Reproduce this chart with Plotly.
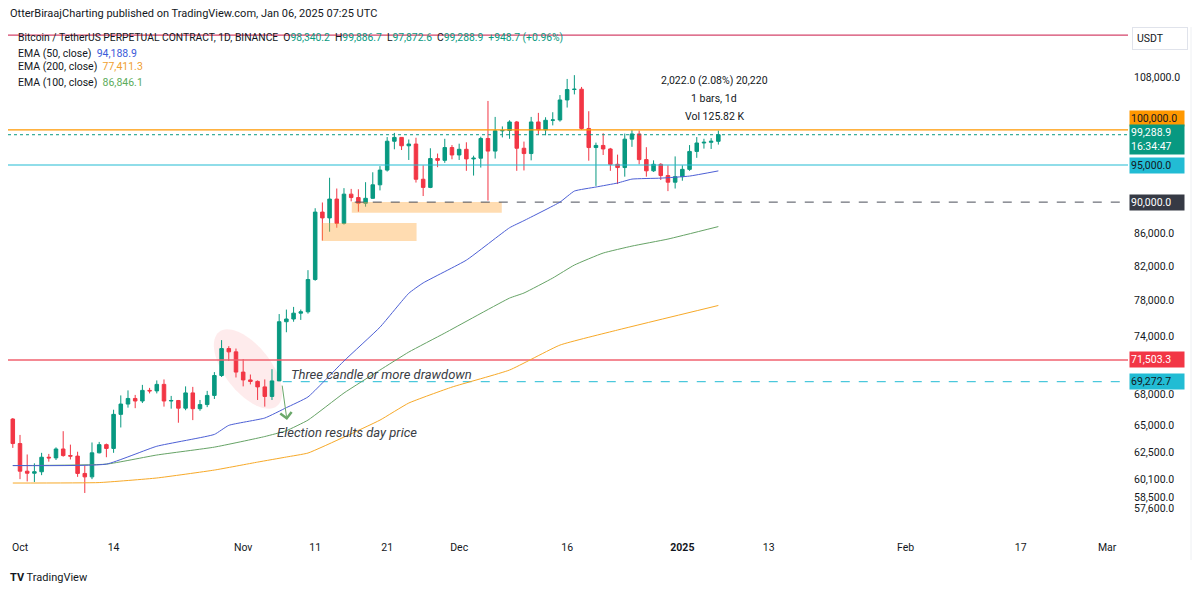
import numpy as np
import pandas as pd
import plotly.graph_objects as go

# ---------------- data ----------------
dates = pd.date_range("2024-09-30", "2025-01-06", freq="D")

opens = [65600, 63300, 60800, 60620, 60750, 62050, 61990, 62800, 62200, 62150, 60600, 60300, 62450, 63200,
         62850, 66050, 67050, 67600, 67350, 68400, 68350, 69000, 67350, 67400, 66650, 68150, 66600, 67000,
         67900, 69900, 72700, 72350, 70250, 69450, 69300, 68750, 67800, 69350, 75600, 75900, 76550, 76700,
         80400, 88700, 87950, 90400, 87250, 91050, 90600, 89850, 90500, 92300, 94300, 98350, 98900, 97700,
         97950, 93050, 91950, 95900, 95650, 97450, 96400, 97200, 95850, 95950, 98750, 96950, 99850, 99900,
         101150, 97350, 96600, 101150, 100000, 101400, 101450, 104450, 106050, 106100, 100200, 97450, 97750,
         97250, 95100, 94650, 98650, 99400, 95750, 94200, 95100, 93550, 92650, 93400, 94400, 96900, 98100,
         98200, 98340.2]
highs = [65700, 64100, 62300, 61500, 62450, 62350, 62950, 64450, 63200, 62550, 61300, 63400, 63450, 63300,
         66500, 67900, 68400, 67950, 68950, 68650, 69400, 69500, 67850, 67450, 68800, 68750, 67450, 68350,
         70250, 73600, 72950, 72700, 71600, 70000, 69400, 69500, 70550, 76450, 76950, 77250, 76950, 81500,
         89200, 89950, 93250, 91800, 91850, 91750, 91700, 92650, 94000, 94850, 98950, 99550, 98950, 98600,
         98850, 94950, 97350, 96600, 98700, 97800, 98000, 98200, 96300, 99000, 104300, 101900, 100500, 101400,
         101300, 98300, 101900, 102500, 101850, 102600, 105200, 107700, 108300, 106450, 102750, 98150, 99500,
         97400, 96450, 99450, 99950, 99900, 97500, 95650, 95250, 94950, 96200, 94950, 97800, 98950, 98700,
         98800, 99886.7]
lows = [62900, 60100, 59900, 59850, 60450, 61650, 61800, 62100, 61850, 60300, 58900, 60100, 62400, 62050,
        62450, 64800, 66700, 66650, 67150, 68100, 68100, 66800, 66600, 65250, 66450, 65500, 66400, 66750,
        67550, 69750, 71400, 69700, 68800, 69000, 67450, 66800, 67450, 69350, 74450, 75600, 75800, 76500,
        80250, 85100, 86200, 86700, 87100, 90100, 88750, 89400, 90450, 91550, 94100, 97200, 97100, 95700,
        92600, 90800, 91850, 94700, 95300, 95800, 95700, 94200, 93550, 94650, 90200, 95900, 98900, 98700,
        94200, 94250, 95650, 99300, 99200, 100650, 101200, 103300, 105300, 100000, 95600, 92150, 96400,
        94200, 92400, 93400, 97550, 95100, 93400, 94050, 92950, 91450, 91800, 92850, 94200, 96000, 97300,
        97250, 97872.6]
closes = [63300, 60800, 60620, 60750, 62050, 61990, 62800, 62200, 62150, 60600, 60300, 62450, 63200, 62850,
          66050, 67050, 67600, 67350, 68400, 68350, 69000, 67350, 67400, 66650, 68150, 66600, 67000, 67900,
          69900, 72700, 72350, 70250, 69450, 69300, 68750, 67800, 69350, 75600, 75900, 76550, 76700, 80400,
          88700, 87950, 90400, 87250, 91050, 90600, 89850, 90500, 92300, 94300, 98350, 98900, 97700, 97950,
          93050, 91950, 95900, 95650, 97450, 96400, 97200, 95850, 95950, 98750, 96950, 99850, 99900, 101150,
          97350, 96600, 101150, 100000, 101400, 101450, 104450, 106050, 106100, 100200, 97450, 97750, 97250,
          95100, 94650, 98650, 99400, 95750, 94200, 95100, 93550, 92650, 93400, 94400, 96900, 98100, 98200,
          98340.2, 99288.9]

ema50_dates = ["2024-09-30", "2024-10-13", "2024-10-20", "2024-10-28", "2024-10-30", "2024-11-04", "2024-11-07",
               "2024-11-10", "2024-11-15", "2024-11-20", "2024-11-24", "2024-11-26", "2024-12-02", "2024-12-08",
               "2024-12-10", "2024-12-15", "2024-12-17", "2024-12-20", "2024-12-23", "2024-12-25", "2024-12-29",
               "2025-01-02", "2025-01-06"]
ema50_vals = [61300, 61430, 63050, 64150, 65000, 65700, 66700, 67750, 71400, 75000, 78800, 80000, 82700,
              86700, 87600, 90000, 91460, 92000, 92540, 93070, 93200, 93480, 94188.9]

ema100_dates = ["2024-09-30", "2024-10-13", "2024-10-20", "2024-10-28", "2024-11-04", "2024-11-07", "2024-11-10",
                "2024-11-15", "2024-11-20", "2024-11-24", "2024-11-29", "2024-12-08", "2024-12-10", "2024-12-14",
                "2024-12-17", "2024-12-21", "2024-12-25", "2024-12-30", "2025-01-06"]
ema100_vals = [61300, 61430, 62250, 62970, 63950, 64500, 65500, 68140, 70460, 72330, 74360, 78250, 78830,
               80570, 82110, 83560, 84410, 85280, 86846.1]

ema200_dates = ["2024-09-30", "2024-10-12", "2024-10-20", "2024-10-28", "2024-11-03", "2024-11-07", "2024-11-10",
                "2024-11-15", "2024-11-20", "2024-11-24", "2024-11-30", "2024-12-08", "2024-12-15", "2024-12-23",
                "2025-01-06"]
ema200_vals = [59760, 59800, 60200, 60900, 61610, 62070, 62430, 63900, 65500, 67150, 68730, 70460, 73070,
               74690, 77411.3]

x_tick_dates = ["2024-10-01", "2024-10-14", "2024-11-01", "2024-11-11", "2024-11-21", "2024-12-01",
                "2024-12-16", "2025-01-01", "2025-01-13", "2025-02-01", "2025-02-17", "2025-03-01"]
x_tick_text = ["Oct", "14", "Nov", "11", "21", "Dec", "16", "<b>2025</b>", "13", "Feb", "17", "Mar"]

y_tick_vals = [108000, 86000, 82000, 78000, 74000, 68000, 65000, 62500, 60100, 58500, 57600]

# horizontal levels
top_line = 114800
level_100k = 100000
last_price = 99288.9
level_95k = 95000
level_90k = 90000
level_red = 71503.3
level_cyan = 69272.7

# zones (start, end, low, high)
zone1 = ("2024-11-16 02:00", "2024-12-06 22:00", 88620, 90010)
zone2 = ("2024-11-11 22:00", "2024-11-25 02:00", 85040, 87300)

# ---------------- style ----------------
UP = "#089981"
DN = "#f23645"
TXT = "#131722"
FONT = "Roboto"
BLUE = "#4c5fd5"
GREEN_EMA = "#66a366"
ORANGE_EMA = "#f7a928"
CYAN = "#22bcd4"

W, H = 1200, 592
L, R, T, B = 8, 72, 27, 57

x_start = "2024-09-29 08:00"
x_end = "2025-03-03 21:36"
y_lo, y_hi = 55400, 116170
lg = np.log10


def px(x):
    return (x - L) / (W - L - R)


def py(y):
    return (H - B - y) / (H - T - B)


fig = go.Figure()


def zone(z):
    x0, x1, lo, hi = z
    fig.add_trace(go.Scatter(x=[x0, x1, x1, x0, x0], y=[lo, lo, hi, hi, lo], mode="lines", fill="toself",
                             fillcolor="rgba(255,167,60,0.40)", line=dict(width=0), hoverinfo="skip"))


zone(zone1)
zone(zone2)


def hline(price, color, dash="solid", width=1.0, x0=None):
    fig.add_trace(go.Scatter(x=[x0 or x_start, x_end], y=[price, price], mode="lines",
                             line=dict(color=color, width=width, dash=dash), hoverinfo="skip"))


hline(top_line, "#d4456b", width=1.2)
hline(level_100k, "#ff9800", width=1.2)
hline(last_price, UP, dash="dot", width=1)
hline(level_95k, CYAN, width=1.2)
hline(level_90k, "#4a4e59", dash="dash", width=1, x0="2024-11-16 12:00")
hline(level_red, "#f0626f", width=1.5)
hline(level_cyan, CYAN, dash="dash", width=1, x0="2024-11-06 12:00")

for dts, vals, col in [(ema200_dates, ema200_vals, ORANGE_EMA), (ema100_dates, ema100_vals, GREEN_EMA),
                       (ema50_dates, ema50_vals, BLUE)]:
    fig.add_trace(go.Scatter(x=dts, y=vals, mode="lines",
                             line=dict(color=col, width=1, shape="spline", smoothing=0.4), hoverinfo="skip"))

fig.add_trace(go.Candlestick(
    x=dates, open=opens, high=highs, low=lows, close=closes,
    increasing=dict(line=dict(color=UP, width=1), fillcolor=UP),
    decreasing=dict(line=dict(color=DN, width=1), fillcolor=DN),
    whiskerwidth=0))

shapes = []
# tilted ellipse highlight (pixel geometry -> paper coords)
cx, cy, a, b = 248, 369, 47, 23
ang = np.deg2rad(52)
t = np.linspace(0, 2 * np.pi, 73)
ex = cx + a * np.cos(t) * np.cos(ang) - b * np.sin(t) * np.sin(ang)
ey = cy + a * np.cos(t) * np.sin(ang) + b * np.sin(t) * np.cos(ang)
path = "M " + " L ".join(f"{px(u):.5f},{py(v):.5f}" for u, v in zip(ex, ey)) + " Z"
shapes.append(dict(type="path", xref="paper", yref="paper", path=path,
                   fillcolor="rgba(242,54,69,0.10)", line=dict(width=0), layer="below"))
# right border of the chart
shapes.append(dict(type="line", xref="paper", yref="paper", x0=px(1191), x1=px(1191), y0=py(560), y1=py(27),
                   line=dict(color="#eef0f3", width=1)))

ann = []


def text_ann(x, y, text, size=11, color=TXT, xanchor="left", italic=False):
    ann.append(dict(xref="paper", yref="paper", x=px(x), y=py(y), text=f"<i>{text}</i>" if italic else text,
                    showarrow=False, xanchor=xanchor, yanchor="middle",
                    font=dict(size=size, color=color, family=FONT)))


text_ann(8, 13, "OtterBiraajCharting published on TradingView.com, Jan 06, 2025 07:25 UTC", size=11)


def g(s):
    return f"<span style='color:{UP}'>{s}</span>"


text_ann(16, 38, "Bitcoin / TetherUS PERPETUAL CONTRACT, 1D, BINANCE  O" + g("98,340.2") + "  H" + g("99,886.7")
         + "  L" + g("97,872.6") + "  C" + g("99,288.9") + "  " + g("+948.7 (+0.96%)"), size=10.3)
text_ann(16, 53, "EMA (50, close)  <span style='color:#3a5bd9'>94,188.9</span>", size=10.5)
text_ann(16, 67, "EMA (200, close)  <span style='color:#f0a030'>77,411.3</span>", size=10.5)
text_ann(16, 82, "EMA (100, close)  <span style='color:#5cac5c'>86,846.1</span>", size=10.5)

text_ann(714, 80, "2,022.0 (2.08%) 20,220", size=10.5, xanchor="center")
text_ann(714, 99, "1 bars, 1d", size=10.5, xanchor="center")
text_ann(714, 116, "Vol 125.82 K", size=10.5, xanchor="center")

text_ann(289, 374, "Three candle or more drawdown", size=13, color="#3a3d45", italic=True)
text_ann(275, 432, "Election results day price", size=13, color="#3a3d45", italic=True)

# arrow
ann.append(dict(xref="x", yref="y", x="2024-11-07 02:00", y=lg(65500), ax=-5, ay=-36, text="",
                showarrow=True, arrowhead=4, arrowsize=2.2, arrowwidth=1, arrowcolor="#6aa86a"))

# TradingView footer
text_ann(8, 577, "<b>TV</b> TradingView", size=11)


def price_box(price, text, bg, fg, yshift=0):
    ann.append(dict(xref="paper", yref="y", x=1, y=lg(price), xanchor="left", yanchor="middle", xshift=1,
                    yshift=yshift, text=text, showarrow=False, bgcolor=bg, align="left", width=52,
                    borderpad=1, font=dict(size=10.5, color=fg, family=FONT)))


price_box(level_100k, "100,000.0", "#ff9800", TXT, yshift=11)
price_box(last_price, "99,288.9<br>16:34:47", UP, "white", yshift=-5)
price_box(level_95k, "95,000.0", CYAN, TXT)
price_box(level_90k, "90,000.0", "#363a45", "white")
price_box(level_red, "71,503.3", DN, "white")
price_box(level_cyan, "69,272.7", CYAN, TXT)

ann.append(dict(xref="paper", yref="paper", x=1, y=py(39), xanchor="left", yanchor="middle", xshift=4,
                text="USDT", showarrow=False, bgcolor="white", bordercolor="#e0e3eb", borderwidth=1,
                align="left", width=46, borderpad=4, font=dict(size=10.5, color=TXT, family=FONT)))

fig.update_layout(
    width=W, height=H, margin=dict(l=L, r=R, t=T, b=B),
    paper_bgcolor="white", plot_bgcolor="white", showlegend=False,
    font=dict(family=FONT, color=TXT),
    shapes=shapes, annotations=ann,
    xaxis=dict(type="date", range=[x_start, x_end], rangeslider=dict(visible=False), showgrid=False,
               zeroline=False, tickmode="array", tickvals=x_tick_dates, ticktext=x_tick_text,
               tickfont=dict(size=10.5, color=TXT, family=FONT), ticks="", ticklabelstandoff=4),
    yaxis=dict(type="log", side="right", range=[lg(y_lo), lg(y_hi)], showgrid=False, zeroline=False,
               tickmode="array", tickvals=y_tick_vals, ticktext=[f"{v:,.1f}" for v in y_tick_vals],
               tickfont=dict(size=10.5, color=TXT, family=FONT), ticks="", ticklabelstandoff=5),
)

fig.write_html("out.html", config={"displayModeBar": False},
               post_script="document.body.style.margin='0';")
